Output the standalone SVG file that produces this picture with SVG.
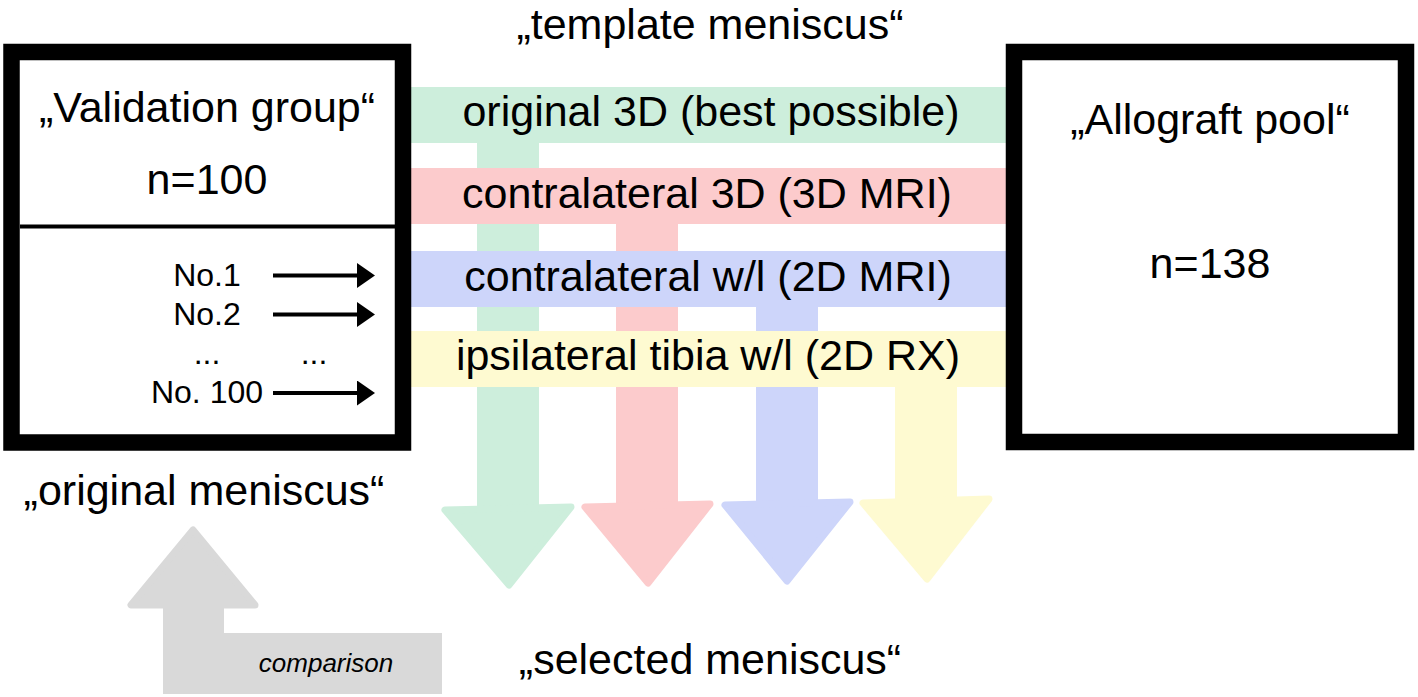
<svg xmlns="http://www.w3.org/2000/svg" width="1418" height="697" viewBox="0 0 1418 697">
<defs>
<style>
text{font-family:"Liberation Sans",Arial,sans-serif;fill:#000}
.big{font-size:43px;text-anchor:middle}
.no{font-size:32px;text-anchor:middle}
.box{fill:#fff;stroke:#000;stroke-width:16.5}
.g{fill:#CDEEDC;stroke:#CDEEDC}
.r{fill:#FCCBCC;stroke:#FCCBCC}
.b{fill:#CDD5FA;stroke:#CDD5FA}
.y{fill:#FEFAD1;stroke:#FEFAD1}
.head{stroke-width:7;stroke-linejoin:round}
.band{stroke:none}
.small{stroke:#000;stroke-width:4;marker-end:url(#ah)}
</style>
<marker id="ah" markerUnits="userSpaceOnUse" markerWidth="20" markerHeight="26" refX="2" refY="12.5" orient="auto">
<path d="M0,0 L18,12.5 L0,25 Z" fill="#000"/>
</marker>
</defs>
<rect width="1418" height="697" fill="#fff"/>

<g id="connectors">
<g id="arrow-green">
<rect class="g band" x="477" y="140" width="62" height="370"/>
<polygon class="g head" points="445,510 571,507 509,585"/>
</g>
<g id="arrow-red">
<rect class="r band" x="616" y="220" width="62" height="288"/>
<polygon class="r head" points="585,507 710,504 648,583"/>
</g>
<g id="arrow-blue">
<rect class="b band" x="756" y="300" width="62" height="206"/>
<polygon class="b head" points="725,505 850,502 787,581"/>
</g>
<g id="arrow-yellow">
<rect class="y band" x="895" y="380" width="62" height="123"/>
<polygon class="y head" points="863,503 989,499 927,579"/>
</g>
<g id="arrow-comparison">
<polygon fill="#D9D9D9" stroke="none" points="163,606 224,606 224,633 442,633 442,694 163,694"/>
<polygon fill="#D9D9D9" stroke="#D9D9D9" stroke-width="7" stroke-linejoin="round" points="131,605 255,605 193,530"/>
<text x="326" y="672" font-size="26" font-style="italic" text-anchor="middle" fill="#1a1a1a">comparison</text>
</g>
</g>

<g id="band-original">
<rect class="g band" x="410" y="87" width="596" height="56"/>
<text class="big" x="711" y="126">original 3D (best possible)</text>
</g>
<g id="band-contra3d">
<rect class="r band" x="410" y="168" width="596" height="56"/>
<text class="big" x="707" y="208">contralateral 3D (3D MRI)</text>
</g>
<g id="band-contrawl">
<rect class="b band" x="410" y="251" width="596" height="56"/>
<text class="big" x="708" y="291">contralateral w/l (2D MRI)</text>
</g>
<g id="band-ipsi">
<rect class="y band" x="410" y="331" width="596" height="56"/>
<text class="big" x="708" y="370">ipsilateral tibia w/l (2D RX)</text>
</g>

<g id="validation-group">
<rect class="box" x="11.5" y="52" width="391.5" height="390.5"/>
<line x1="20" y1="226.5" x2="395" y2="226.5" stroke="#000" stroke-width="4"/>
<text class="big" x="207" y="122">„Validation group“</text>
<text class="big" x="207" y="194">n=100</text>
<text class="no" x="207" y="286">No.1</text>
<text class="no" x="207" y="325">No.2</text>
<text class="no" x="207" y="364">...</text>
<text class="no" x="314" y="364">...</text>
<text class="no" x="207" y="403">No. 100</text>
</g>

<g id="small-arrows">
<line class="small" x1="273" y1="275.5" x2="359" y2="275.5"/>
<line class="small" x1="273" y1="314.5" x2="359" y2="314.5"/>
<line class="small" x1="273" y1="393" x2="359" y2="393"/>
</g>

<g id="allograft-pool">
<rect class="box" x="1014" y="52" width="392" height="390"/>
<text class="big" x="1210" y="134">„Allograft pool“</text>
<text class="big" x="1210" y="278">n=138</text>
</g>

<g id="labels">
<text class="big" x="710" y="39">„template meniscus“</text>
<text class="big" x="204" y="505">„original meniscus“</text>
<text class="big" x="710" y="674">„selected meniscus“</text>
</g>
</svg>
